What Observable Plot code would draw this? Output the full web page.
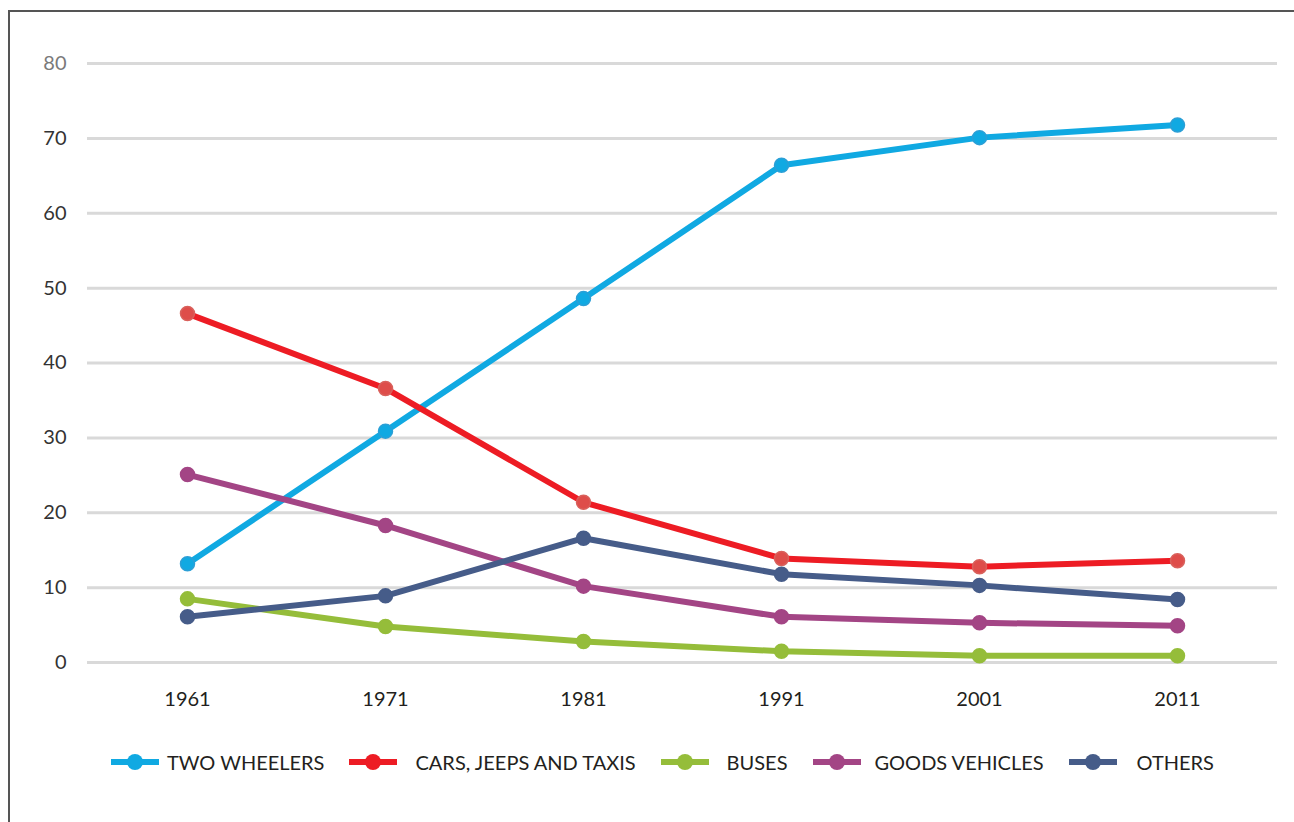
<!DOCTYPE html>
<html>
<head>
<meta charset="utf-8">
<script src="https://cdn.jsdelivr.net/npm/d3@7"></script>
<script src="https://cdn.jsdelivr.net/npm/@observablehq/plot@0.6"></script>
<style>
  html, body { margin: 0; padding: 0; background: #fff; }
  #page { position: relative; width: 1294px; height: 822px; overflow: hidden; font-family: Lato, "Open Sans", sans-serif; }
  #frame { position: absolute; left: 8px; top: 10px; width: 1300px; height: 830px; border-left: 2px solid #555; border-top: 2px solid #555; pointer-events: none; }
  #chart { position: absolute; left: 0; top: 0; }
  #legend { position: absolute; left: 0; top: 749px; width: 1294px; height: 26px; display: flex; align-items: center; justify-content: center; font-size: 20px; color: #231f20; padding-left: 31px; box-sizing: border-box; }
  .item { display: flex; align-items: center; }
  .sw { position: relative; width: 48px; height: 26px; }
  .sw .bar { position: absolute; left: 0; top: 10px; width: 48px; height: 6px; }
  .sw .dot { position: absolute; left: 16px; top: 5px; width: 16px; height: 16px; border-radius: 50%; }
</style>
</head>
<body>
<div id="page">
  <div id="chart"></div>
  <div id="legend"></div>
  <div id="frame"></div>
</div>
<script>
const years = ["1961", "1971", "1981", "1991", "2001", "2011"];
const seriesNames = ["TWO WHEELERS", "CARS, JEEPS AND TAXIS", "BUSES", "GOODS VEHICLES", "OTHERS"];
const twoWheelers = [13.2, 30.9, 48.6, 66.4, 70.1, 71.8];
const carsJeepsTaxis = [46.6, 36.6, 21.4, 13.9, 12.8, 13.6];
const buses = [8.5, 4.8, 2.8, 1.5, 0.9, 0.9];
const goodsVehicles = [25.1, 18.3, 10.2, 6.1, 5.3, 4.9];
const others = [6.1, 8.9, 16.6, 11.8, 10.3, 8.4];
const yTicks = [0, 10, 20, 30, 40, 50, 60, 70, 80];
const lineColors = ["#10a9e2", "#ed1c24", "#95bd3a", "#a34585", "#465c89"];
const dotColors = ["#10a9e2", "#de4d4a", "#95bd3a", "#a34585", "#465c89"];
const dotStrokes = ["#2b9fd6", "#d9605b", "#95bd3a", "#a34585", "#465c89"];

const allValues = [twoWheelers, carsJeepsTaxis, buses, goodsVehicles, others];
const data = [];
seriesNames.forEach((s, i) => {
  years.forEach((yr, j) => data.push({series: s, year: yr, value: allValues[i][j]}));
});

const plot = Plot.plot({
  width: 1294,
  height: 735,
  marginTop: 63,
  marginBottom: 73,
  marginLeft: 87,
  marginRight: 17,
  style: {fontFamily: "Lato, 'Open Sans', sans-serif", background: "transparent"},
  x: {type: "point", domain: years, padding: 0.5},
  y: {domain: [0, 80]},
  color: {domain: seriesNames, range: lineColors},
  marks: [
    Plot.gridY(yTicks, {stroke: "#d9d9d9", strokeOpacity: 1, strokeWidth: 3}),
    Plot.axisY(yTicks, {tickSize: 0, tickPadding: 21, fontSize: 20, fill: d => d === 80 ? "#7a7a7a" : "#333", label: null}),
    Plot.axisX(years, {tickSize: 0, tickPadding: 29, fontSize: 20, fill: "#231f20", label: null}),
    ...seriesNames.map((s, i) => Plot.line(data.filter(d => d.series === s), {
      x: "year", y: "value", stroke: lineColors[i], strokeWidth: 6
    })),
    ...seriesNames.map((s, i) => Plot.dot(data.filter(d => d.series === s), {
      x: "year", y: "value", r: 7, fill: dotColors[i], stroke: dotStrokes[i], strokeWidth: 1.5
    }))
  ]
});
document.getElementById("chart").appendChild(plot);

const gaps = [8, 18, 18, 14, 20];
const legend = document.getElementById("legend");
seriesNames.forEach((s, i) => {
  const item = document.createElement("div");
  item.className = "item";
  item.style.marginLeft = i === 0 ? "0px" : "25px";
  const sw = document.createElement("div");
  sw.className = "sw";
  sw.innerHTML = `<div class="bar" style="background:${lineColors[i]}"></div><div class="dot" style="background:${lineColors[i]}"></div>`;
  const label = document.createElement("span");
  label.textContent = s;
  label.style.marginLeft = gaps[i] + "px";
  item.appendChild(sw);
  item.appendChild(label);
  legend.appendChild(item);
});
</script>
</body>
</html>
